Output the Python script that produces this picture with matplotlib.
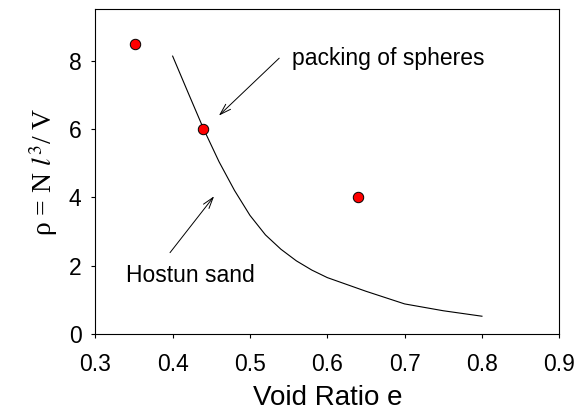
import matplotlib
matplotlib.use("Agg")
import matplotlib.pyplot as plt

plt.rcParams['font.family'] = ['Liberation Sans', 'DejaVu Sans']
plt.rcParams['mathtext.fontset'] = 'stix'

# Hostun sand curve
void_ratio = [0.40, 0.42, 0.44, 0.46, 0.48, 0.50, 0.52, 0.54, 0.56, 0.58, 0.60, 0.65, 0.70, 0.75, 0.80]
rho_sand = [8.13, 7.06, 6.0, 5.04, 4.2, 3.47, 2.9, 2.48, 2.14, 1.87, 1.65, 1.25, 0.88, 0.68, 0.52]

# packings of spheres
e_spheres = [0.351, 0.439, 0.640]
rho_spheres = [8.49, 5.99, 4.0]

fig = plt.figure(figsize=(5.83, 4.15), dpi=100)
ax = fig.add_axes([0.1635, 0.1952, 0.9593 - 0.1635, 0.9776 - 0.1952])

ax.plot(void_ratio, rho_sand, color='black', linewidth=0.8)
ax.plot(e_spheres, rho_spheres, 'o', color='red', markeredgecolor='black',
        markeredgewidth=0.7, markersize=7.5)

ax.annotate('', xy=(0.4598, 6.39), xytext=(0.5378, 8.07),
            arrowprops=dict(arrowstyle='->,head_length=0.8,head_width=0.25',
                            color='black', lw=0.7, shrinkA=0, shrinkB=0, mutation_scale=10))
ax.annotate('', xy=(0.4536, 4.03), xytext=(0.3966, 2.38),
            arrowprops=dict(arrowstyle='->,head_length=0.8,head_width=0.25',
                            color='black', lw=0.7, shrinkA=0, shrinkB=0, mutation_scale=10))
ax.text(0.554, 7.86, 'packing of spheres', fontsize=16.5, va='baseline', ha='left')
ax.text(0.3397, 1.53, 'Hostun sand', fontsize=16.5, va='baseline', ha='left')

ax.set_xlim(0.3, 0.9)
ax.set_ylim(0, 9.5)
ax.set_xticks([0.3, 0.4, 0.5, 0.6, 0.7, 0.8, 0.9])
ax.set_yticks([0, 2, 4, 6, 8])
ax.set_xticklabels(['0.3', '0.4', '0.5', '0.6', '0.7', '0.8', '0.9'])
ax.tick_params(direction='out', length=3, width=0.8, labelsize=16.5)
ax.tick_params(axis='x', pad=11)
ax.tick_params(axis='y', pad=7)
for s in ax.spines.values():
    s.set_linewidth(0.8)

ax.set_xlabel('Void Ratio e', fontsize=20, labelpad=6)
ax.set_ylabel('ρ = N $\\mathit{l}^3$/ V', fontsize=20,
              family=['Liberation Serif', 'DejaVu Serif'], labelpad=6)

fig.savefig('out.png', dpi=100)
